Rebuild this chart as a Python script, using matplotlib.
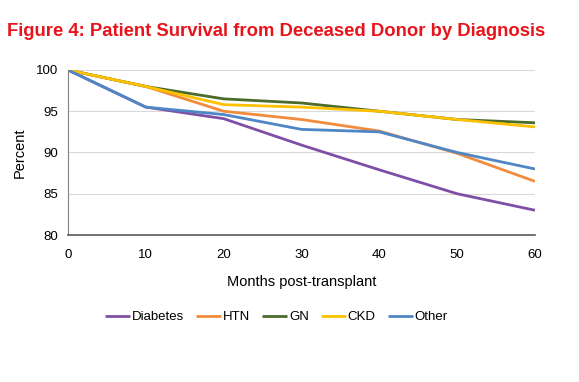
import matplotlib
matplotlib.use("Agg")
import matplotlib.pyplot as plt
from matplotlib import font_manager

plt.rcParams['font.family'] = ['Liberation Sans', 'DejaVu Sans']

months = [0, 10, 20, 30, 40, 50, 60]
diabetes = [100, 95.5, 94.1, 90.9, 87.9, 85.0, 83.0]
htn = [100, 98.0, 95.0, 94.0, 92.6, 89.9, 86.5]
gn = [100, 98.0, 96.5, 96.0, 95.0, 94.0, 93.6]
ckd = [100, 98.0, 95.8, 95.5, 95.0, 94.0, 93.1]
other = [100, 95.5, 94.6, 92.8, 92.5, 90.0, 88.0]

series = [("Diabetes", diabetes, "#7F4FA6"),
          ("HTN", htn, "#F28C3C"),
          ("GN", gn, "#4A6B2A"),
          ("CKD", ckd, "#FFC000"),
          ("Other", other, "#4F86C6")]

names = {f.name for f in font_manager.fontManager.ttflist}
if 'Liberation Sans Narrow' in names:
    title_family = ['Liberation Sans Narrow', 'DejaVu Sans']
    title_size = 16
else:
    title_family = ['Liberation Sans', 'DejaVu Sans']
    title_size = 13.3

fig = plt.figure(figsize=(5.79, 3.82), dpi=100)
ax = fig.add_axes([0.1174, 0.3848, 0.8066, 0.432])

for name, vals, col in series:
    ax.plot(months, vals, color=col, lw=2.0, label=name, solid_capstyle='butt')

ax.set_xlim(0, 60)
ax.set_ylim(80, 100)
ax.set_xticks(range(0, 61, 10))
ax.set_yticks(range(80, 101, 5))
ax.grid(axis='y', color='#D9D9D9', lw=0.8)
ax.set_axisbelow(True)
for s in ['top', 'right']:
    ax.spines[s].set_visible(False)
ax.spines['left'].set_color('#808080')
ax.spines['bottom'].set_color('#595959')
ax.spines['bottom'].set_linewidth(1.2)
ax.tick_params(length=0, labelsize=9.5, pad=7, colors='#000000')
ax.tick_params(axis='x', pad=10)
ax.set_xlabel("Months post-transplant", fontsize=10.5, labelpad=10)
ax.set_ylabel("Percent", fontsize=10.5, labelpad=7)

fig.text(0.012, 0.906, "Figure 4: Patient Survival from Deceased Donor by Diagnosis",
         color='#E8141C', fontsize=title_size, fontweight='bold', ha='left',
         va='baseline', family=title_family)

fig.legend(loc='center', bbox_to_anchor=(0.477, 0.17), ncol=5, frameon=False,
           fontsize=9.5, handlelength=1.9, handletextpad=0.15, columnspacing=0.9)

fig.savefig("out.png", dpi=100)
